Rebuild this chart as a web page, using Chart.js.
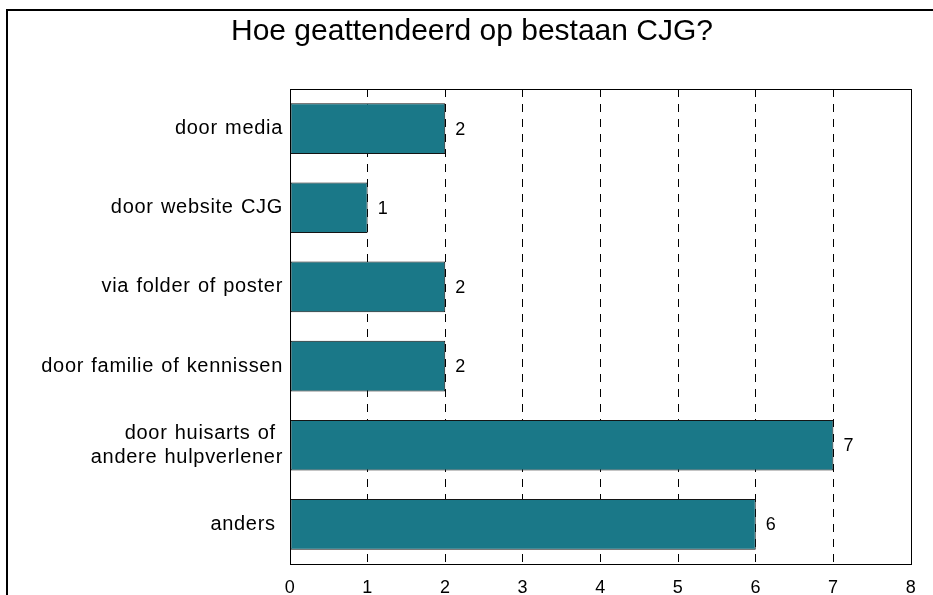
<!DOCTYPE html>
<html>
<head>
<meta charset="utf-8">
<script src="https://cdn.jsdelivr.net/npm/chart.js@4/dist/chart.umd.min.js"></script>
<style>
    body { margin: 0; background: #ffffff; }
    canvas { display: block; }
</style>
</head>
<body>
<canvas id="cjg-chart" width="933" height="595"></canvas>
<script>
const categories = [
    'door media',
    'door website CJG',
    'via folder of poster',
    'door familie of kennissen',
    ['door huisarts of ', 'andere hulpverlener'],
    'anders '
];
const counts = [2, 1, 2, 2, 7, 6];
const xTicks = [0, 1, 2, 3, 4, 5, 6, 7, 8];
const chartTitle = 'Hoe geattendeerd op bestaan CJG?';

const fontFamily = "'Liberation Sans', Arial, sans-serif";

// outer frame + title, drawn by hand so the title sits where it does in the picture
const outerFrame = {
    id: 'outerFrame',
    beforeDraw(chart) {
        const ctx = chart.ctx;
        ctx.save();
        ctx.fillStyle = '#ffffff';
        ctx.fillRect(0, 0, chart.width, chart.height);
        ctx.strokeStyle = '#000000';
        ctx.lineWidth = 2;
        ctx.strokeRect(7, 10, chart.width + 20, chart.height + 20);

        ctx.fillStyle = '#000000';
        ctx.font = '30px ' + fontFamily;
        ctx.textAlign = 'center';
        ctx.textBaseline = 'middle';
        ctx.fillText(chartTitle, 472, 32);
        ctx.restore();

        // labels in the picture are a bit spread out
        ctx.letterSpacing = '0.7px';
        ctx.wordSpacing = '1px';
    },
    beforeDatasetsDraw(chart) {
        chart.ctx.letterSpacing = '0px';
        chart.ctx.wordSpacing = '0px';
    }
};

// box round the plot area + value labels next to the bars
const plotBox = {
    id: 'plotBox',
    afterDatasetsDraw(chart) {
        const ctx = chart.ctx;
        const area = chart.chartArea;
        ctx.save();
        ctx.strokeStyle = '#000000';
        ctx.lineWidth = 1;
        ctx.strokeRect(area.left + 0.5, area.top + 0.5, area.right - area.left, area.bottom - area.top);

        ctx.fillStyle = '#000000';
        ctx.font = '18px ' + fontFamily;
        ctx.textAlign = 'left';
        ctx.textBaseline = 'middle';
        chart.getDatasetMeta(0).data.forEach((bar, index) => {
            ctx.fillText(String(counts[index]), bar.x + 10, bar.y + 1);
        });
        ctx.restore();
    }
};

function buildChart() {
    const ctx = document.getElementById('cjg-chart').getContext('2d');

    new Chart(ctx, {
        type: 'bar',
        data: {
            labels: categories,
            datasets: [{
                data: counts,
                backgroundColor: '#1a7888',
                borderColor: '#141414',
                borderWidth: 1,
                borderSkipped: false,
                barPercentage: 0.64,
                categoryPercentage: 1
            }]
        },
        options: {
            indexAxis: 'y',
            responsive: false,
            animation: false,
            layout: {
                padding: { left: 0, right: 22, top: 89, bottom: 0 }
            },
            plugins: {
                legend: { display: false },
                tooltip: { enabled: false },
                title: { display: false }
            },
            scales: {
                x: {
                    type: 'linear',
                    min: xTicks[0],
                    max: xTicks[xTicks.length - 1],
                    afterBuildTicks: (scale) => {
                        scale.ticks = xTicks.map(v => ({ value: v }));
                    },
                    afterFit: (scale) => {
                        scale.height = 31;
                    },
                    grid: {
                        display: true,
                        color: '#000000',
                        lineWidth: 1,
                        drawTicks: false
                    },
                    border: { display: false, dash: [8, 7] },
                    ticks: {
                        color: '#000000',
                        padding: 13,
                        font: { family: fontFamily, size: 18 }
                    }
                },
                y: {
                    afterFit: (scale) => {
                        scale.width = 290;
                    },
                    grid: { display: false, drawTicks: false },
                    border: { display: false },
                    ticks: {
                        color: '#000000',
                        padding: 7,
                        font: { family: fontFamily, size: 20, lineHeight: 1.2 }
                    }
                }
            }
        },
        plugins: [outerFrame, plotBox]
    });
}

buildChart();
</script>
</body>
</html>
